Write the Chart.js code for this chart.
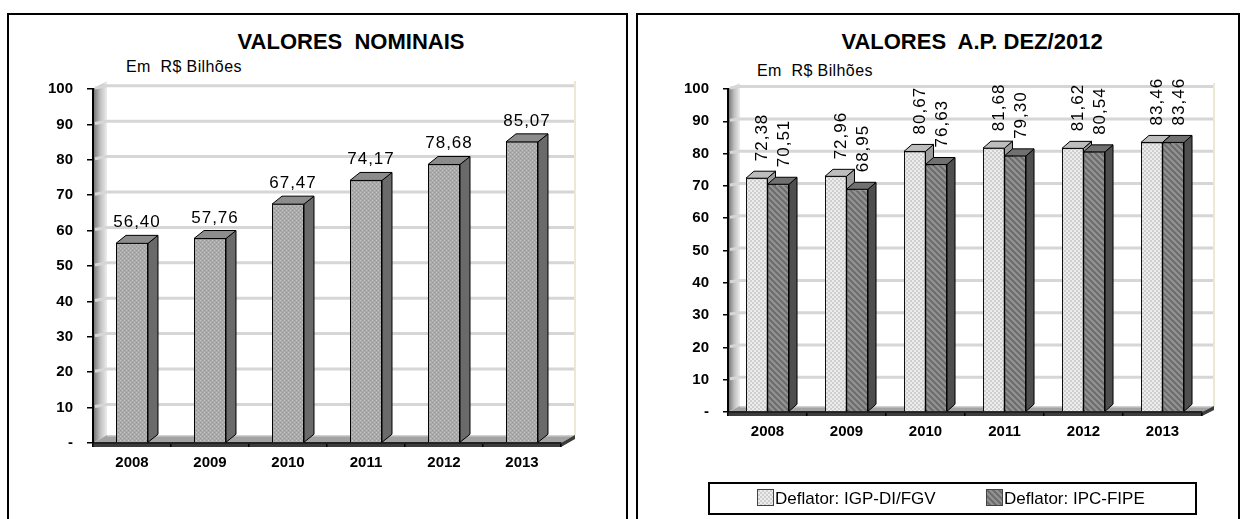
<!DOCTYPE html>
<html>
<head>
<meta charset="utf-8">
<script src="https://cdn.jsdelivr.net/npm/chart.js@4.4.1/dist/chart.umd.min.js"></script>
<style>
body { margin: 0; background: #fff; width: 1245px; height: 519px; overflow: hidden; position: relative; font-family: "Liberation Sans", Arial, sans-serif; }
.panel { position: absolute; top: 13px; height: 530px; border: 2px solid #000; box-sizing: border-box; }
#p1 { left: 7px; width: 621px; }
#p2 { left: 636px; width: 604px; }
canvas { position: absolute; top: 0; }
.title { position: absolute; top: 29px; font-weight: bold; font-size: 22px; line-height: 26px; white-space: pre; transform: translateX(-50%); }
.unit { position: absolute; font-size: 16px; line-height: 18px; letter-spacing: 0.4px; white-space: pre; }
#legend { position: absolute; left: 708px; top: 482px; width: 489px; height: 33px; border: 2px solid #000; box-sizing: border-box; font-size: 17px; }
.item { position: absolute; top: 0; line-height: 29px; white-space: nowrap; }
.item canvas { position: static; vertical-align: -2px; border: 1px solid #444; margin-right: 1px; }
</style>
</head>
<body>
<div class="panel" id="p1"></div>
<div class="panel" id="p2"></div>

<div class="title" style="left:351px">VALORES  NOMINAIS</div>
<div class="unit" style="left:126px;top:58px">Em  R$ Bilhões</div>
<div class="title" style="left:972px">VALORES  A.P. DEZ/2012</div>
<div class="unit" style="left:757px;top:62px">Em  R$ Bilhões</div>

<canvas id="c1" width="627" height="519" style="left:0"></canvas>
<canvas id="c2" width="615" height="519" style="left:630px"></canvas>

<div id="legend">
  <div class="item" style="left:47px"><canvas id="sw1" width="15" height="15"></canvas>Deflator: IGP-DI/FGV</div>
  <div class="item" style="left:276px"><canvas id="sw2" width="15" height="15"></canvas>Deflator: IPC-FIPE</div>
</div>

<script>
const years = ['2008', '2009', '2010', '2011', '2012', '2013'];
const nominais = [56.40, 57.76, 67.47, 74.17, 78.68, 85.07];
const igpDi = [72.38, 72.96, 80.67, 81.68, 81.62, 83.46];
const ipcFipe = [70.51, 68.95, 76.63, 79.30, 80.54, 83.46];
const yTickLabels = ['-', '10', '20', '30', '40', '50', '60', '70', '80', '90', '100'];

// texturas das barras
function makePattern(size, draw) {
    const c = document.createElement('canvas');
    c.width = c.height = size;
    const g = c.getContext('2d');
    draw(g, size);
    return g.createPattern(c, 'repeat');
}

const stipple = makePattern(4, (g) => {
    g.fillStyle = '#aaaaaa'; g.fillRect(0, 0, 4, 4);
    g.fillStyle = '#c6c6c6'; g.fillRect(0, 0, 1, 1); g.fillRect(2, 2, 1, 1);
    g.fillStyle = '#999999'; g.fillRect(2, 0, 1, 1); g.fillRect(0, 2, 1, 1);
});
const checker = makePattern(4, (g) => {
    g.fillStyle = '#ececec'; g.fillRect(0, 0, 4, 4);
    g.fillStyle = '#cfcfcf'; g.fillRect(0, 0, 2, 2); g.fillRect(2, 2, 2, 2);
});
const hatch = makePattern(6, (g) => {
    g.fillStyle = '#939393'; g.fillRect(0, 0, 6, 6);
    g.strokeStyle = '#6c6c6c'; g.lineWidth = 2;
    g.beginPath();
    g.moveTo(-1, -1); g.lineTo(7, 7);
    g.moveTo(-4, 2); g.lineTo(4, 10);
    g.moveTo(2, -4); g.lineTo(10, 4);
    g.stroke();
});

function fmt(v) {
    return v.toFixed(2).replace('.', ',');
}

// paredes, chao e faces laterais (efeito 3D)
function threeD(opts) {
    return {
        id: 'threeD',
        beforeDraw(chart) {
            const ctx = chart.ctx, a = chart.chartArea, ys = chart.scales.y;
            const dx = opts.wallDx, dy = opts.wallDy;
            ctx.save();
            // parede esquerda
            const grad = ctx.createLinearGradient(a.left, 0, a.left + dx, 0);
            grad.addColorStop(0, '#6e6e6e');
            grad.addColorStop(0.5, '#bdbdbd');
            grad.addColorStop(1, '#ededed');
            ctx.fillStyle = grad;
            ctx.beginPath();
            ctx.moveTo(a.left, a.top);
            ctx.lineTo(a.left + dx, a.top + dy);
            ctx.lineTo(a.left + dx, a.bottom + dy);
            ctx.lineTo(a.left, a.bottom);
            ctx.closePath();
            ctx.fill();
            // linhas de grade
            ctx.strokeStyle = '#d6d6d6';
            ctx.lineWidth = 3;
            yTickLabels.forEach((t, i) => {
                if (i === 0) return;
                const y = ys.getPixelForValue(i * 10);
                ctx.beginPath();
                ctx.moveTo(a.left + 2, y - 1);
                ctx.lineTo(a.left + dx, y + dy * 0.4);
                ctx.lineTo(a.right + dx, y + dy * 0.4);
                ctx.stroke();
            });
            // borda direita da parede
            ctx.strokeStyle = '#ebe8d6';
            ctx.lineWidth = 2;
            ctx.beginPath();
            ctx.moveTo(a.right + dx, a.top + dy);
            ctx.lineTo(a.right + dx, a.bottom + dy);
            ctx.stroke();
            // chao
            ctx.fillStyle = '#a3a3a3';
            ctx.beginPath();
            ctx.moveTo(a.left, a.bottom);
            ctx.lineTo(a.left + dx, a.bottom + dy);
            ctx.lineTo(a.right + dx, a.bottom + dy);
            ctx.lineTo(a.right, a.bottom);
            ctx.closePath();
            ctx.fill();
            ctx.fillStyle = '#d0d0d0';
            ctx.fillRect(a.left + dx, a.bottom + dy, a.right - a.left, 1.5);
            ctx.fillStyle = '#3c3c3c';
            ctx.fillRect(a.left, a.bottom, a.right - a.left, 4);
            ctx.beginPath();
            ctx.moveTo(a.right, a.bottom);
            ctx.lineTo(a.right + dx, a.bottom + dy);
            ctx.lineTo(a.right + dx, a.bottom + dy + 4);
            ctx.lineTo(a.right, a.bottom + 4);
            ctx.closePath();
            ctx.fill();
            ctx.restore();
        },
        beforeDatasetsDraw(chart) {
            const ctx = chart.ctx;
            const dx = opts.barDx, dy = opts.barDy;
            ctx.save();
            ctx.strokeStyle = '#000';
            ctx.lineWidth = 1;
            chart.data.datasets.forEach((ds, di) => {
                chart.getDatasetMeta(di).data.forEach((bar) => {
                    const l = bar.x - bar.width / 2, r = bar.x + bar.width / 2;
                    const t = bar.y, b = bar.base;
                    ctx.fillStyle = opts.faces[di].side;
                    ctx.beginPath();
                    ctx.moveTo(r, t); ctx.lineTo(r + dx, t + dy);
                    ctx.lineTo(r + dx, b + dy); ctx.lineTo(r, b);
                    ctx.closePath(); ctx.fill(); ctx.stroke();
                    ctx.fillStyle = opts.faces[di].top;
                    ctx.beginPath();
                    ctx.moveTo(l, t); ctx.lineTo(l + dx, t + dy);
                    ctx.lineTo(r + dx, t + dy); ctx.lineTo(r, t);
                    ctx.closePath(); ctx.fill(); ctx.stroke();
                });
            });
            ctx.restore();
        },
        afterDatasetsDraw(chart) {
            const ctx = chart.ctx;
            ctx.save();
            ctx.fillStyle = '#000';
            ctx.font = '17px "Liberation Sans", Arial, sans-serif';
            if ('letterSpacing' in ctx) ctx.letterSpacing = '1px';
            chart.data.datasets.forEach((ds, di) => {
                chart.getDatasetMeta(di).data.forEach((bar, i) => {
                    const txt = fmt(ds.data[i]);
                    if (opts.rotated) {
                        ctx.save();
                        ctx.translate(bar.x + opts.barDx * 0.75, bar.y - 17);
                        ctx.rotate(-Math.PI / 2);
                        ctx.textAlign = 'left';
                        ctx.textBaseline = 'middle';
                        ctx.fillText(txt, 0, 0);
                        ctx.restore();
                    } else {
                        ctx.textAlign = 'center';
                        ctx.textBaseline = 'alphabetic';
                        ctx.fillText(txt, bar.x + opts.barDx / 2, bar.y - 16);
                    }
                });
            });
            ctx.restore();
        }
    };
}

function makeOptions(pad, tickLen) {
    return {
        responsive: false,
        animation: false,
        devicePixelRatio: 1,
        layout: { padding: pad },
        plugins: { legend: { display: false }, tooltip: { enabled: false } },
        scales: {
            x: {
                afterFit: (s) => { s.height = 30; },
                grid: { drawOnChartArea: false, drawTicks: true, tickLength: 4, color: '#000', lineWidth: 1.5 },
                border: { display: true, color: '#222', width: 2 },
                ticks: { color: '#000', padding: 7, font: { family: '"Liberation Sans", Arial', size: 15, weight: 'bold' } }
            },
            y: {
                min: 0,
                max: 100,
                afterFit: (s) => { s.width = 60; },
                grid: { drawOnChartArea: false, drawTicks: true, tickLength: tickLen, color: '#000', lineWidth: 1.5 },
                border: { display: true, color: '#000', width: 2 },
                ticks: {
                    stepSize: 10,
                    color: '#000',
                    padding: 14,
                    font: { family: '"Liberation Sans", Arial', size: 15, weight: 'bold' },
                    callback: (v, i) => yTickLabels[i]
                }
            }
        }
    };
}

new Chart(document.getElementById('c1'), {
    type: 'bar',
    data: {
        labels: years,
        datasets: [{
            label: 'Valores nominais',
            data: nominais,
            backgroundColor: stipple,
            borderColor: '#000',
            borderWidth: 1,
            barPercentage: 0.41,
            categoryPercentage: 1
        }]
    },
    options: makeOptions({ left: 33, right: 66, top: 89, bottom: 46 }, 6),
    plugins: [threeD({
        wallDx: 14, wallDy: -8, barDx: 10, barDy: -8, rotated: false,
        faces: [{ side: '#6a6a6a', top: '#8c8c8c' }]
    })]
});

new Chart(document.getElementById('c2'), {
    type: 'bar',
    data: {
        labels: years,
        datasets: [{
            label: 'Deflator: IGP-DI/FGV',
            data: igpDi,
            backgroundColor: checker,
            borderColor: '#000',
            borderWidth: 1,
            barPercentage: 1,
            categoryPercentage: 0.545
        }, {
            label: 'Deflator: IPC-FIPE',
            data: ipcFipe,
            backgroundColor: hatch,
            borderColor: '#000',
            borderWidth: 1,
            barPercentage: 1,
            categoryPercentage: 0.545
        }]
    },
    options: makeOptions({ left: 38, right: 43, top: 89, bottom: 77 }, 5),
    plugins: [threeD({
        wallDx: 12, wallDy: -6, barDx: 8, barDy: -7, rotated: true,
        faces: [{ side: '#9c9c9c', top: '#bdbdbd' }, { side: '#4e4e4e', top: '#707070' }]
    })]
});

// amostras da legenda
[['sw1', checker], ['sw2', hatch]].forEach(([id, pat]) => {
    const g = document.getElementById(id).getContext('2d');
    g.fillStyle = pat;
    g.fillRect(0, 0, 15, 15);
});
</script>
</body>
</html>
